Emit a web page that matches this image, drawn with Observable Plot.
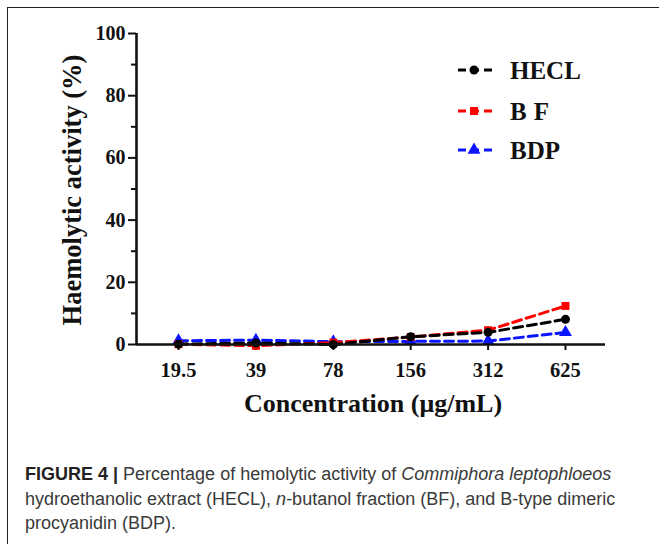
<!DOCTYPE html>
<html><head><meta charset="utf-8">
<script src="https://cdn.jsdelivr.net/npm/d3@7"></script>
<script src="https://cdn.jsdelivr.net/npm/@observablehq/plot@0.6"></script>
<style>
body{margin:0;background:#fff;width:659px;height:544px;overflow:hidden;position:relative}
#frame{position:absolute;left:7px;top:7px;width:700px;height:600px;border-top:1.5px solid #222;border-left:1.5px solid #222}
#chart{position:absolute;left:0;top:0}
#caption{position:absolute;left:25px;top:462px;font-family:"Liberation Sans",Arial,sans-serif;font-size:18px;line-height:24.5px;color:#3a3a3a;white-space:nowrap}
#caption b{color:#222}
</style></head>
<body>
<div id="frame"></div>
<div id="chart"></div>
<div id="caption"><b>FIGURE 4 |</b> Percentage of hemolytic activity of <i>Commiphora leptophloeos</i><br>hydroethanolic extract (HECL), <i>n</i>-butanol fraction (BF), and B-type dimeric<br>procyanidin (BDP).</div>
<script>
const concentrations = ["19.5", "39", "78", "156", "312", "625"];
const seriesNames = ["BDP", "BF", "HECL"];
const hecl = [0.1, 0.5, 0.0, 2.5, 3.9, 8.1];
const bf = [0.1, -0.4, 0.6, 2.4, 4.6, 12.4];
const bdp = [1.2, 1.4, 0.9, 1.0, 1.1, 3.9];
const yMajor = [0, 20, 40, 60, 80, 100];
const yMinor = [10, 30, 50, 70, 90];
const legendOrder = ["HECL", "BF", "BDP"];

const values = {HECL: hecl, BF: bf, BDP: bdp};
const colors = {HECL: "#000000", BF: "#ff0000", BDP: "#0a14ff"};
const symbols = {HECL: "circle", BF: "square", BDP: "triangle"};
const radii = {HECL: 4.5, BF: 4.5, BDP: 4.8};

const xDomain = [-0.543, 5.517];

const marks = [];
for (const s of seriesNames) {
  const rows = concentrations.map((c, i) => ({i, v: values[s][i]}));
  marks.push(Plot.line(rows, {x: "i", y: "v", stroke: colors[s], strokeWidth: 3, strokeDasharray: "9,5"}));
  marks.push(Plot.dot(rows, {x: "i", y: "v", fill: colors[s], symbol: symbols[s], r: radii[s], stroke: "none"}));
}

const plot = Plot.plot({
  width: 659,
  height: 440,
  marginLeft: 136,
  marginRight: 54,
  marginTop: 33,
  marginBottom: 96,
  style: {fontFamily: "Liberation Serif, 'Times New Roman', serif", fontWeight: "bold", color: "#111", background: "transparent"},
  x: {type: "linear", domain: xDomain, axis: null},
  y: {domain: [0, 100], axis: null},
  marks: [
    Plot.axisY(yMinor, {tickSize: 5, tickFormat: () => "", strokeWidth: 2, label: null}),
    Plot.axisY(yMajor, {tickSize: 8, tickPadding: 3, fontSize: 20, fontWeight: "bold", strokeWidth: 2, label: null}),
    Plot.axisX(d3.range(concentrations.length), {tickSize: 6, tickPadding: 12, tickFormat: i => concentrations[i], fontSize: 20.5, fontWeight: "bold", strokeWidth: 2, label: null}),
    Plot.ruleX([xDomain[0]], {y1: 0, y2: 100, strokeWidth: 2.6, stroke: "#111"}),
    ...marks,
    Plot.ruleY([0], {strokeWidth: 2.6, stroke: "#111"}),
    Plot.text(["Concentration (μg/mL)"], {frameAnchor: "bottom", textAnchor: "middle", dx: 2, dy: 67, fontSize: 26, fontWeight: "bold", fill: "#111"}),
    Plot.text(["Haemolytic activity (%)"], {frameAnchor: "left", textAnchor: "middle", dx: -64, dy: 1, rotate: -90, fontSize: 26.5, fontWeight: "bold", fill: "#111"})
  ]
});
document.getElementById("chart").appendChild(plot);

// legend
const svg = d3.select(plot);
const lg = svg.append("g").attr("text-anchor", "start");
const rowY = [70, 111, 150];
legendOrder.forEach((s, k) => {
  const y = rowY[k];
  lg.append("line").attr("x1", 458).attr("x2", 492).attr("y1", y).attr("y2", y)
    .attr("stroke", colors[s]).attr("stroke-width", 3).attr("stroke-dasharray", "8,5");
  const sym = {circle: d3.symbolCircle, square: d3.symbolSquare, triangle: d3.symbolTriangle}[symbols[s]];
  lg.append("path").attr("transform", `translate(474,${y})`)
    .attr("d", d3.symbol(sym, Math.PI * radii[s] * radii[s])()).attr("fill", colors[s]);
  lg.append("text").attr("x", 510).attr("y", y).attr("dy", "0.35em").attr("text-anchor", "start")
    .attr("font-size", 25).attr("font-weight", "bold").attr("fill", "#111")
    .attr("letter-spacing", s === "BF" ? 7 : 0).text(s);
});
</script>
</body></html>
